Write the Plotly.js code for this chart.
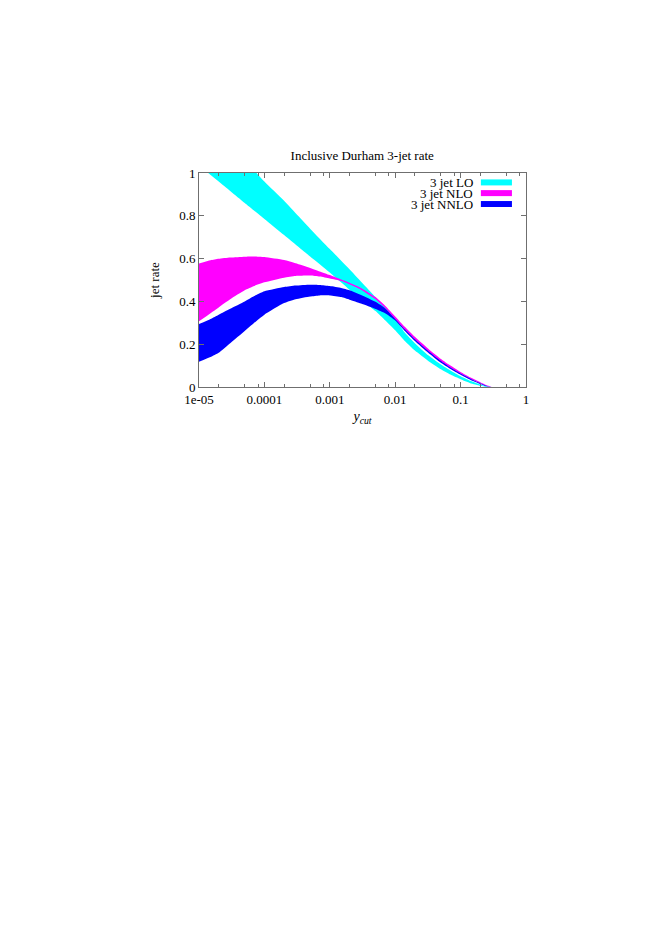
<!DOCTYPE html>
<html>
<head>
<meta charset="utf-8">
<script src="https://cdn.plot.ly/plotly-3.0.1.min.js"></script>
<style>
html,body{margin:0;padding:0;background:#fff;}
#chart{width:664px;height:939px;}
</style>
</head>
<body>
<div id="chart"></div>
<script>
// ---- data ----
const seriesNames = ["3 jet LO", "3 jet NLO", "3 jet NNLO"];
const seriesColors = ["#00ffff", "#ff00ff", "#0000ff"];

const ycutLO = [1e-5, 2e-5, 5e-5, 1e-4, 2e-4, 5e-4, 1e-3, 2e-3, 5e-3, 7e-3, 1e-2, 1.4e-2, 2e-2, 3.2e-2, 5e-2, 7e-2, 0.1, 0.14, 0.2, 0.25, 0.3];
const loUpper = [1.28, 1.18, 1.06, 0.96, 0.87, 0.74, 0.645, 0.55, 0.42, 0.372, 0.318, 0.255, 0.205, 0.148, 0.105, 0.077, 0.050, 0.029, 0.012, 0.004, 0.0];
const loLower = [1.035, 0.96, 0.86, 0.785, 0.71, 0.61, 0.535, 0.455, 0.355, 0.312, 0.265, 0.215, 0.170, 0.122, 0.083, 0.058, 0.036, 0.018, 0.006, 0.001, 0.0];

const ycutHO = [1e-5, 1.5e-5, 2e-5, 3e-5, 5e-5, 7e-5, 1e-4, 2e-4, 3e-4, 5e-4, 7e-4, 1e-3, 1.5e-3, 2e-3, 3e-3, 5e-3, 7e-3, 1e-2, 1.4e-2, 2e-2, 3.2e-2, 5e-2, 7e-2, 0.1, 0.14, 0.2, 0.25, 0.3];
const nloUpper = [0.577, 0.592, 0.599, 0.605, 0.609, 0.610, 0.607, 0.593, 0.578, 0.556, 0.540, 0.523, 0.502, 0.487, 0.463, 0.420, 0.380, 0.330, 0.282, 0.235, 0.179, 0.131, 0.100, 0.070, 0.045, 0.022, 0.008, 0.0];
const nloLower = [0.307, 0.345, 0.372, 0.410, 0.452, 0.472, 0.489, 0.511, 0.519, 0.521, 0.516, 0.507, 0.495, 0.480, 0.455, 0.410, 0.370, 0.315, 0.268, 0.221, 0.166, 0.119, 0.090, 0.062, 0.039, 0.018, 0.005, 0.0];
const nnloUpper = [0.294, 0.318, 0.338, 0.366, 0.400, 0.425, 0.447, 0.467, 0.474, 0.478, 0.477, 0.472, 0.463, 0.452, 0.430, 0.398, 0.368, 0.318, 0.270, 0.223, 0.168, 0.121, 0.091, 0.063, 0.040, 0.018, 0.006, 0.0];
const nnloLower = [0.118, 0.140, 0.160, 0.205, 0.262, 0.300, 0.338, 0.392, 0.410, 0.423, 0.428, 0.428, 0.420, 0.408, 0.390, 0.365, 0.345, 0.311, 0.262, 0.215, 0.160, 0.113, 0.084, 0.057, 0.034, 0.014, 0.003, 0.0];

const xTickVals = [1e-5, 1e-4, 1e-3, 1e-2, 1e-1, 1];
const xTickText = ["1e-05", "0.0001", "0.001", "0.01", "0.1", "1"];
const xMinorVals = [2e-5, 5e-5, 8e-5, 2e-4, 5e-4, 8e-4, 2e-3, 5e-3, 8e-3, 2e-2, 5e-2, 8e-2, 0.2, 0.5, 0.8];
const yTickVals = [0, 0.2, 0.4, 0.6, 0.8, 1];
const yTickText = ["0", "0.2", "0.4", "0.6", "0.8", "1"];

const titleText = "Inclusive Durham 3-jet rate";
const xTitle = "<i>y</i><sub><i>cut</i></sub>";
const yTitle = "jet rate";

// ---- build traces ----
function band(x, lo, hi, color, name) {
  return [
    {x: x, y: lo, type: "scatter", mode: "lines", line: {width: 0, color: color, shape: "spline", smoothing: 0.5},
     showlegend: false, hoverinfo: "skip", name: name + " lower"},
    {x: x, y: hi, type: "scatter", mode: "lines", line: {width: 0, color: color, shape: "spline", smoothing: 0.5},
     fill: "tonexty", fillcolor: color, showlegend: false, name: name}
  ];
}
const traces = [].concat(
  band(ycutLO, loLower, loUpper, seriesColors[0], seriesNames[0]),
  band(ycutHO, nloLower, nloUpper, seriesColors[1], seriesNames[1]),
  band(ycutHO, nnloLower, nnloUpper, seriesColors[2], seriesNames[2])
);

// ---- gnuplot-style key (text, then swatch) ----
const legendRowY = [0.956, 0.906, 0.855];
const annotations = [];
const shapes = [];
seriesNames.forEach(function (n, i) {
  annotations.push({text: n, xref: "paper", yref: "paper", x: 0.843, y: legendRowY[i],
    xanchor: "right", yanchor: "middle", showarrow: false,
    font: {family: "Liberation Serif, Times New Roman, serif", size: 13, color: "#000"}});
  shapes.push({type: "rect", xref: "paper", yref: "paper", x0: 0.862, x1: 0.957,
    y0: legendRowY[i] - 0.014, y1: legendRowY[i] + 0.014,
    fillcolor: seriesColors[i], line: {width: 0}});
});

const axisColor = "#6f6f6f";
const font = {family: "Liberation Serif, Times New Roman, serif", size: 13, color: "#000"};

const layout = {
  width: 664, height: 939,
  margin: {l: 199, r: 138, t: 173, b: 552, pad: 0},
  paper_bgcolor: "#fff", plot_bgcolor: "#fff",
  font: font,
  showlegend: false,
  title: {text: titleText, x: 0.5455, xref: "container", xanchor: "center", y: 0.834, yref: "container", yanchor: "middle",
          font: {family: font.family, size: 13, color: "#000"}},
  xaxis: {
    type: "log", range: [-5, 0], tickmode: "array", tickvals: xTickVals, ticktext: xTickText,
    ticks: "inside", ticklen: 5, tickwidth: 1, tickcolor: axisColor,
    showline: true, linecolor: axisColor, linewidth: 1, mirror: "ticks",
    showgrid: false, zeroline: false, tickfont: font,
    minor: {tickmode: "array", tickvals: xMinorVals, ticks: "inside", ticklen: 3, tickcolor: axisColor, showgrid: false},
    title: {text: xTitle, font: {family: font.family, size: 14, color: "#000"}, standoff: 5}
  },
  yaxis: {
    range: [0, 1], tickmode: "array", tickvals: yTickVals, ticktext: yTickText,
    ticks: "inside", ticklen: 5, tickwidth: 1, tickcolor: axisColor,
    showline: true, linecolor: axisColor, linewidth: 1, mirror: "ticks",
    showgrid: false, zeroline: false, tickfont: font,
    title: {text: yTitle, font: {family: font.family, size: 13, color: "#000"}, standoff: 16}
  },
  annotations: annotations,
  shapes: shapes
};

Plotly.newPlot("chart", traces, layout, {staticPlot: true, displayModeBar: false});
</script>
</body>
</html>
